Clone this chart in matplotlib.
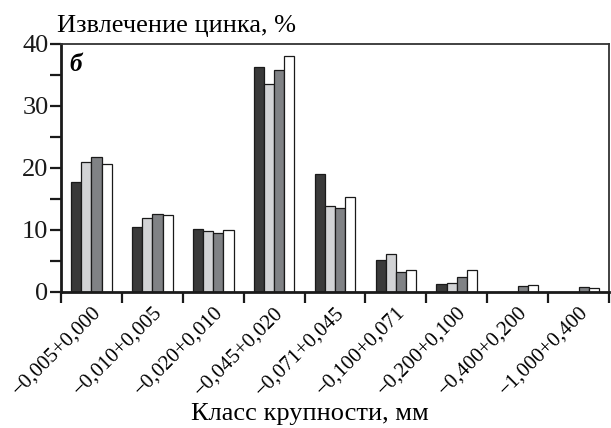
import matplotlib
matplotlib.use("Agg")
import matplotlib.pyplot as plt
import numpy as np
from matplotlib.ticker import MultipleLocator, FixedLocator

plt.rcParams['font.family'] = ['Liberation Serif', 'DejaVu Serif']

categories = ["\u22120,005+0,000", "\u22120,010+0,005", "\u22120,020+0,010",
              "\u22120,045+0,020", "\u22120,071+0,045", "\u22120,100+0,071",
              "\u22120,200+0,100", "\u22120,400+0,200", "\u22121,000+0,400"]
series1 = [17.8, 10.5, 10.1, 36.3, 19.1, 5.1, 1.3, 0.0, 0.0]
series2 = [20.9, 11.9, 9.85, 33.5, 13.9, 6.05, 1.5, 0.0, 0.0]
series3 = [21.7, 12.6, 9.5, 35.8, 13.5, 3.3, 2.5, 0.95, 0.75]
series4 = [20.6, 12.4, 9.95, 38.1, 15.3, 3.6, 3.5, 1.2, 0.6]
series = [series1, series2, series3, series4]
colors = ["#3a3a3a", "#d2d3d5", "#808285", "#ffffff"]

fig = plt.figure(figsize=(6.11, 4.28), dpi=100)
ax = fig.add_axes([61/611, 1-292/428, (609-61)/611, (292-44)/428])

x = np.arange(len(categories))
w = 0.167
offsets = (np.arange(4) - 1.5) * w
for s, c, off in zip(series, colors, offsets):
    ax.bar(x + off, s, width=w, color=c, edgecolor="#1a1a1a", linewidth=0.9, zorder=2)

ax.set_xlim(-0.5, len(categories) - 0.5)
ax.set_ylim(0, 40)

ax.yaxis.set_major_locator(MultipleLocator(10))
ax.yaxis.set_minor_locator(MultipleLocator(5))
ax.tick_params(axis='y', which='both', direction='out', length=8, width=1.6,
               labelsize=19, pad=1, colors='#1a1a1a')

ax.xaxis.set_major_locator(FixedLocator(np.arange(-0.5, len(categories), 1.0)))
ax.xaxis.set_major_formatter(plt.NullFormatter())
ax.xaxis.set_minor_locator(FixedLocator(x))
ax.set_xticks(x, minor=True)
ax.set_xticklabels(categories, minor=True, rotation=45, ha='right', va='top',
                   rotation_mode='anchor', fontsize=15)
ax.tick_params(axis='x', which='major', direction='out', length=8, width=1.6, colors='#1a1a1a')
ax.tick_params(axis='x', which='minor', length=0, pad=8)

for side in ['left', 'bottom']:
    ax.spines[side].set_linewidth(2.0)
    ax.spines[side].set_color('#1a1a1a')
for side in ['top', 'right']:
    ax.spines[side].set_linewidth(1.3)
    ax.spines[side].set_color('#333333')

ax.text(0.015, 0.965, "\u0431", transform=ax.transAxes, fontsize=18,
        fontweight='bold', fontstyle='italic', ha='left', va='top')

fig.text(57/611, 1-32/428, "Извлечение цинка, %", fontsize=19, ha='left', va='baseline')
fig.text(310/611, 1-420/428, "Класс крупности, мм", fontsize=19, ha='center', va='baseline')

fig.savefig("out.png", dpi=100)
